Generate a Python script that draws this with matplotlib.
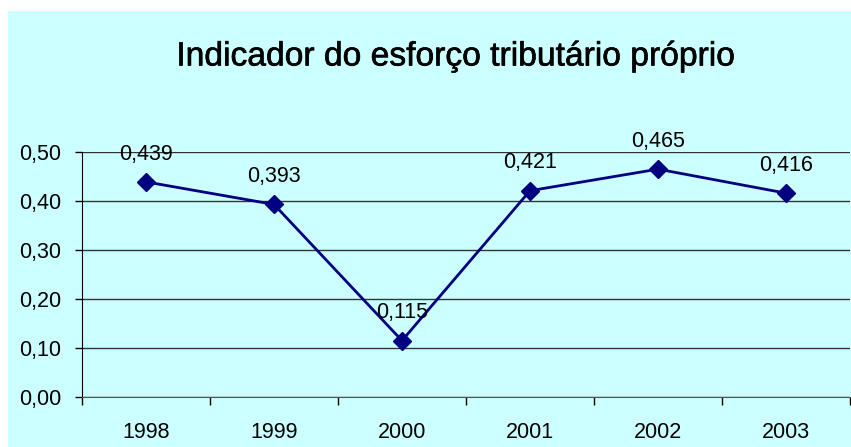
import matplotlib
matplotlib.use("Agg")
import matplotlib.pyplot as plt
import matplotlib.patheffects as pe
from matplotlib.patches import Rectangle
from matplotlib.ticker import FixedLocator, NullFormatter

years = ["1998", "1999", "2000", "2001", "2002", "2003"]
values = [0.439, 0.393, 0.115, 0.421, 0.465, 0.416]
y_ticks = [0.0, 0.1, 0.2, 0.3, 0.4, 0.5]

plt.rcParams["font.family"] = ["Liberation Sans", "DejaVu Sans"]

W, H = 851, 447
fig = plt.figure(figsize=(W / 100, H / 100), dpi=100)
fig.patch.set_facecolor("white")

bg = "#CCFFFF"
frame = Rectangle((8 / W, 0), 1, 1 - 11 / H, transform=fig.transFigure,
                  facecolor=bg, edgecolor="none", zorder=-5)
fig.add_artist(frame)

ax = fig.add_axes([82 / W, 50 / H, 768 / W, 245 / H])
ax.set_zorder(1)
ax.set_facecolor(bg)

fs = 15.5
x = list(range(len(years)))
ax.plot(x, values, color="#000080", linewidth=2.0, marker="D", markersize=9,
        markerfacecolor="#000080", markeredgecolor="#000080", zorder=3, clip_on=False)

for xi, v in zip(x, values):
    ax.annotate(f"{v:.3f}".replace(".", ","), (xi, v), xytext=(0, 20),
                textcoords="offset points", ha="center", va="center",
                fontsize=fs, color="black", zorder=4)

ax.set_xlim(-0.5, len(years) - 0.5)
ax.set_ylim(0, 0.5)
ax.set_yticks(y_ticks)
ax.set_yticklabels([f"{t:.2f}".replace(".", ",") for t in y_ticks], fontsize=fs)
ax.yaxis.grid(True, color="#333333", linewidth=1)
ax.set_axisbelow(True)

ax.set_xticks(x)
ax.set_xticklabels(years, fontsize=fs)
ax.tick_params(axis="x", which="major", length=0, pad=18)
ax.xaxis.set_minor_locator(FixedLocator([i - 0.5 for i in range(len(years) + 1)]))
ax.xaxis.set_minor_formatter(NullFormatter())
ax.tick_params(axis="x", which="minor", length=6, width=1, color="black", direction="out")
ax.tick_params(axis="y", length=5, width=1, color="black", pad=10)

for s in ["top", "right"]:
    ax.spines[s].set_visible(False)
ax.spines["left"].set_color("black")
ax.spines["bottom"].set_color("#555555")

fig.text(455 / W, 1 - 57 / H, "Indicador do esforço tributário próprio",
         ha="center", va="center", fontsize=24.2, color="black",
         path_effects=[pe.withStroke(linewidth=0.45, foreground="black")])

fig.savefig("out.png", dpi=100, facecolor=fig.get_facecolor())
